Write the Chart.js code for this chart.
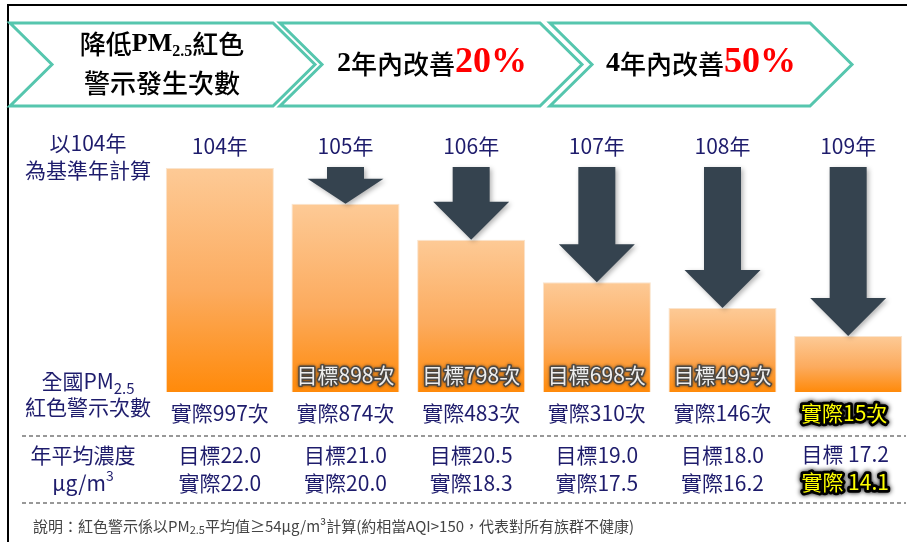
<!DOCTYPE html>
<html>
<head>
<meta charset="utf-8">
<script src="https://cdn.jsdelivr.net/npm/chart.js@4.4.1/dist/chart.umd.min.js"></script>
<style>
  html, body { margin: 0; padding: 0; background: #fff; overflow: hidden; }
  canvas { display: block; }
</style>
</head>
<body>
<canvas id="pm25" width="912" height="542"></canvas>
<script>
const years = ['104年', '105年', '106年', '107年', '108年', '109年'];
// bar length relative to 104 (=100)
const barHeights = [100, 84, 68, 49, 37.5, 25];
const targetCounts = [null, 898, 798, 698, 499, null];
const actualCounts = [997, 874, 483, 310, 146, 15];
const targetConc = [22.0, 21.0, 20.5, 19.0, 18.0, 17.2];
const actualConc = [22.0, 20.0, 18.3, 17.5, 16.2, 14.1];

const NAVY = '#1e1c6c';
const TEAL = '#56c6ae';
const CJK = '"Noto Sans CJK TC", "Noto Sans CJK SC", sans-serif';
const SERIF = '"Liberation Serif", "DejaVu Serif", serif';

// draw a row of text pieces centred on cx; piece = [text, font, color, dy]
function runs(ctx, parts, cx, y, glow) {
  let w = 0;
  parts.forEach(p => { ctx.font = p[1]; w += ctx.measureText(p[0]).width; });
  let x = cx - w / 2;
  ctx.textAlign = 'left';
  ctx.textBaseline = 'middle';
  parts.forEach(p => {
    ctx.font = p[1];
    const yy = y + (p[3] || 0);
    if (glow) {
      ctx.save();
      ctx.shadowColor = glow.shadow;
      ctx.shadowBlur = glow.blur;
      ctx.strokeStyle = glow.stroke;
      ctx.lineWidth = glow.width;
      ctx.lineJoin = 'round';
      ctx.strokeText(p[0], x, yy);
      ctx.restore();
    }
    ctx.fillStyle = p[2];
    ctx.fillText(p[0], x, yy);
    x += ctx.measureText(p[0]).width;
  });
}

const yellowGlow = { shadow: 'rgba(0,0,0,1)', blur: 5, stroke: '#000', width: 5.5 };
const greyGlow = { shadow: 'rgba(40,40,40,0.8)', blur: 3, stroke: 'rgba(70,70,70,0.9)', width: 3 };

function chevron(ctx, L, R) {
  const t = 23, b = 106, m = 64.5, d = 42;
  ctx.beginPath();
  ctx.moveTo(L, t);
  ctx.lineTo(R, t);
  ctx.lineTo(R + d, m);
  ctx.lineTo(R, b);
  ctx.lineTo(L, b);
  ctx.lineTo(L + d, m);
  ctx.closePath();
  ctx.stroke();
}

const decorations = {
  id: 'decorations',
  afterDatasetsDraw(chart) {
    const ctx = chart.ctx;
    const x = chart.scales.x, y = chart.scales.y;
    const top = y.getPixelForValue(100) - 1;

    // down arrows onto the bars
    ctx.save();
    ctx.fillStyle = '#35434f';
    ctx.shadowColor = 'rgba(0,0,0,0.3)';
    ctx.shadowBlur = 5;
    ctx.shadowOffsetX = 2;
    ctx.shadowOffsetY = 2;
    for (let i = 1; i < years.length; i++) {
      const cx = x.getPixelForValue(i);
      const tip = y.getPixelForValue(barHeights[i]);
      const head = Math.min(38, (tip - top) * 0.68);
      ctx.beginPath();
      ctx.moveTo(cx - 18.5, top);
      ctx.lineTo(cx + 18.5, top);
      ctx.lineTo(cx + 18.5, tip - head);
      ctx.lineTo(cx + 38, tip - head);
      ctx.lineTo(cx, tip);
      ctx.lineTo(cx - 38, tip - head);
      ctx.lineTo(cx - 18.5, tip - head);
      ctx.closePath();
      ctx.fill();
    }
    ctx.restore();

    // targets written inside the bars
    ctx.save();
    targetCounts.forEach((v, i) => {
      if (v === null) return;
      runs(ctx, [['目標' + v + '次', '21px ' + CJK, '#eeeeee']], x.getPixelForValue(i), 375, greyGlow);
    });
    ctx.restore();
  },
  afterDraw(chart) {
    const ctx = chart.ctx;
    const x = chart.scales.x;
    ctx.save();

    // frame
    ctx.fillStyle = '#000';
    ctx.fillRect(7, 4, 905, 2);
    ctx.fillRect(7, 4, 2, 538);

    // header chevrons
    ctx.strokeStyle = TEAL;
    ctx.lineWidth = 3;
    ctx.lineJoin = 'miter';
    chevron(ctx, 10, 273);
    chevron(ctx, 280, 540);
    chevron(ctx, 550, 810);

    const h26 = '500 26px ' + CJK;
    runs(ctx, [
      ['降低', h26, '#000'],
      ['PM', 'bold 26px ' + SERIF, '#000'],
      ['2.5', 'bold 16px ' + SERIF, '#000', 8],
      ['紅色', h26, '#000']
    ], 162, 44);
    runs(ctx, [['警示發生次數', h26, '#000']], 162, 83);
    runs(ctx, [
      ['2', 'bold 28px ' + SERIF, '#000'],
      ['年內改善', h26, '#000'],
      ['20%', 'bold 36px ' + SERIF, '#ff0000', -1]
    ], 432, 64);
    runs(ctx, [
      ['4', 'bold 28px ' + SERIF, '#000'],
      ['年內改善', h26, '#000'],
      ['50%', 'bold 36px ' + SERIF, '#ff0000', -1]
    ], 701, 64);

    // left row labels
    const f21 = '21px ' + CJK;
    runs(ctx, [['以104年', f21, NAVY]], 88, 143);
    runs(ctx, [['為基準年計算', f21, NAVY]], 88, 170);
    runs(ctx, [['全國PM', f21, NAVY], ['2.5', '15px ' + CJK, NAVY, 7]], 88, 381);
    runs(ctx, [['紅色警示次數', f21, NAVY]], 88, 407);
    runs(ctx, [['年平均濃度', f21, NAVY]], 83, 455);
    runs(ctx, [['μg/m', f21, NAVY], ['3', '14px ' + CJK, NAVY, -7]], 83, 483);

    // column texts
    years.forEach((yr, i) => {
      const cx = x.getPixelForValue(i);
      const last = i === years.length - 1;
      runs(ctx, [[yr, f21, NAVY]], cx, 146);
      if (last) {
        runs(ctx, [['實際' + actualCounts[i] + '次', f21, '#ffff00']], cx - 4, 413, yellowGlow);
        runs(ctx, [['目標 ' + targetConc[i].toFixed(1), f21, NAVY]], cx - 3, 454);
        runs(ctx, [['實際 ' + actualConc[i].toFixed(1), f21, '#ffff00']], cx - 3, 482, yellowGlow);
      } else {
        runs(ctx, [['實際' + actualCounts[i] + '次', f21, NAVY]], cx, 413);
        runs(ctx, [['目標' + targetConc[i].toFixed(1), f21, NAVY]], cx, 455);
        runs(ctx, [['實際' + actualConc[i].toFixed(1), f21, NAVY]], cx, 483);
      }
    });

    // dashed separators
    ctx.strokeStyle = '#333';
    ctx.lineWidth = 1.2;
    ctx.setLineDash([4, 3]);
    [436, 503].forEach(yy => {
      ctx.beginPath();
      ctx.moveTo(22, yy);
      ctx.lineTo(906, yy);
      ctx.stroke();
    });
    ctx.setLineDash([]);

    // footnote
    const f15 = '15px ' + CJK;
    const parts = [
      ['說明：紅色警示係以PM', f15, '#444'],
      ['2.5', '11px ' + CJK, '#444', 4],
      ['平均值≥54μg/m³計算(約相當AQI>150，代表對所有族群不健康)', f15, '#444']
    ];
    let w = 0;
    parts.forEach(p => { ctx.font = p[1]; w += ctx.measureText(p[0]).width; });
    runs(ctx, parts, 33 + w / 2, 526);

    ctx.restore();
  }
};

new Chart(document.getElementById('pm25'), {
  type: 'bar',
  data: {
    labels: years,
    datasets: [{
      data: barHeights,
      backgroundColor: (c) => {
        const chart = c.chart;
        const area = chart.chartArea;
        if (!area || c.dataIndex === undefined) return '#fca95a';
        const top = chart.scales.y.getPixelForValue(barHeights[c.dataIndex]);
        const g = chart.ctx.createLinearGradient(0, top, 0, area.bottom);
        g.addColorStop(0, '#fdca96');
        g.addColorStop(0.55, '#fcab5e');
        g.addColorStop(1, '#ff8a0a');
        return g;
      },
      borderColor: 'rgba(250,225,200,0.9)',
      borderWidth: 1,
      categoryPercentage: 1,
      barPercentage: 0.86
    }]
  },
  plugins: [decorations],
  options: {
    responsive: false,
    devicePixelRatio: 1,
    animation: false,
    layout: {
      padding: { top: 168, bottom: 150, left: 157, right: 1 }
    },
    plugins: {
      legend: { display: false },
      tooltip: { enabled: false }
    },
    scales: {
      x: { display: false },
      y: { display: false, min: 0, max: 100 }
    }
  }
});
</script>
</body>
</html>
